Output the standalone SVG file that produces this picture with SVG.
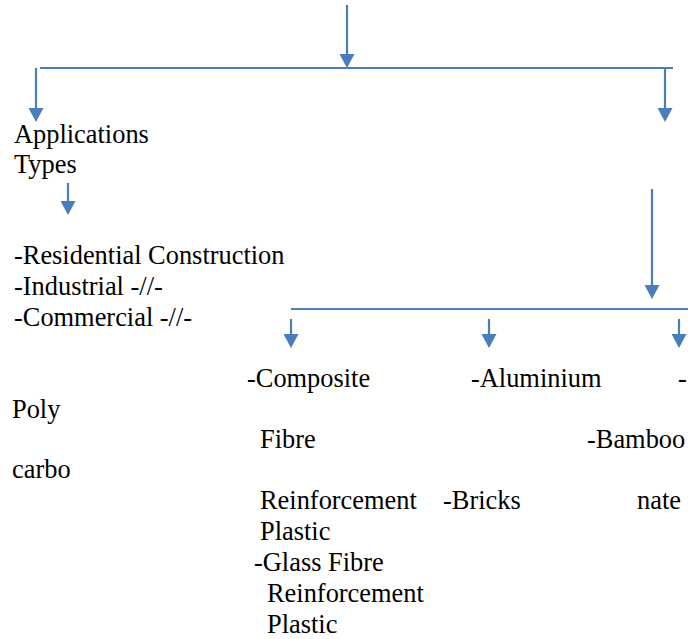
<svg xmlns="http://www.w3.org/2000/svg" width="700" height="639" viewBox="0 0 700 639">
<style>
text{font-family:'Liberation Serif','Times New Roman',Tinos,'DejaVu Serif',serif;font-size:26.4px;fill:#000}
.c line{stroke:#4A7EBB;stroke-width:2.2;fill:none}
.a{marker-end:url(#ah)}
</style>
<defs>
<marker id="ah" markerUnits="userSpaceOnUse" markerWidth="15" markerHeight="15" refX="0" refY="7.5" orient="auto">
<path d="M0,0 L14,7.5 L0,15 z" fill="#4A7EBB"/>
</marker>
</defs>
<rect width="700" height="639" fill="#fff"/>
<g class="c" id="connectors">
<line class="a" x1="347" y1="5" x2="347" y2="54"/>
<line x1="40" y1="68" x2="673" y2="68"/>
<line class="a" x1="36" y1="68" x2="36" y2="108"/>
<line class="a" x1="665" y1="68" x2="665" y2="108"/>
<line class="a" x1="68" y1="183" x2="68" y2="201"/>
<line class="a" x1="652" y1="189" x2="652" y2="285"/>
<line x1="291" y1="309" x2="688" y2="309"/>
<line class="a" x1="291" y1="319" x2="291" y2="334"/>
<line class="a" x1="489" y1="319" x2="489" y2="334"/>
<line class="a" x1="679" y1="319" x2="679" y2="334"/>
</g>
<g id="applications">
<text x="14" y="143">Applications</text>
<text x="14" y="173">Types</text>
</g>
<g id="types-list">
<text x="14" y="264">-Residential Construction</text>
<text x="14" y="295">-Industrial -//-</text>
<text x="14" y="326">-Commercial -//-</text>
</g>
<g id="composite">
<text x="247" y="387">-Composite</text>
<text x="260" y="448">Fibre</text>
<text x="260" y="509">Reinforcement</text>
<text x="260" y="540">Plastic</text>
<text x="254" y="571">-Glass Fibre</text>
<text x="267" y="602">Reinforcement</text>
<text x="267" y="633">Plastic</text>
</g>
<g id="aluminium">
<text x="471" y="387">-Aluminium</text>
<text x="587" y="448">-Bamboo</text>
<text x="443" y="509">-Bricks</text>
</g>
<g id="polycarbonate">
<text x="678" y="387">-</text>
<text x="12" y="418">Poly</text>
<text x="12" y="478">carbo</text>
<text x="637" y="509">nate</text>
</g>
</svg>
